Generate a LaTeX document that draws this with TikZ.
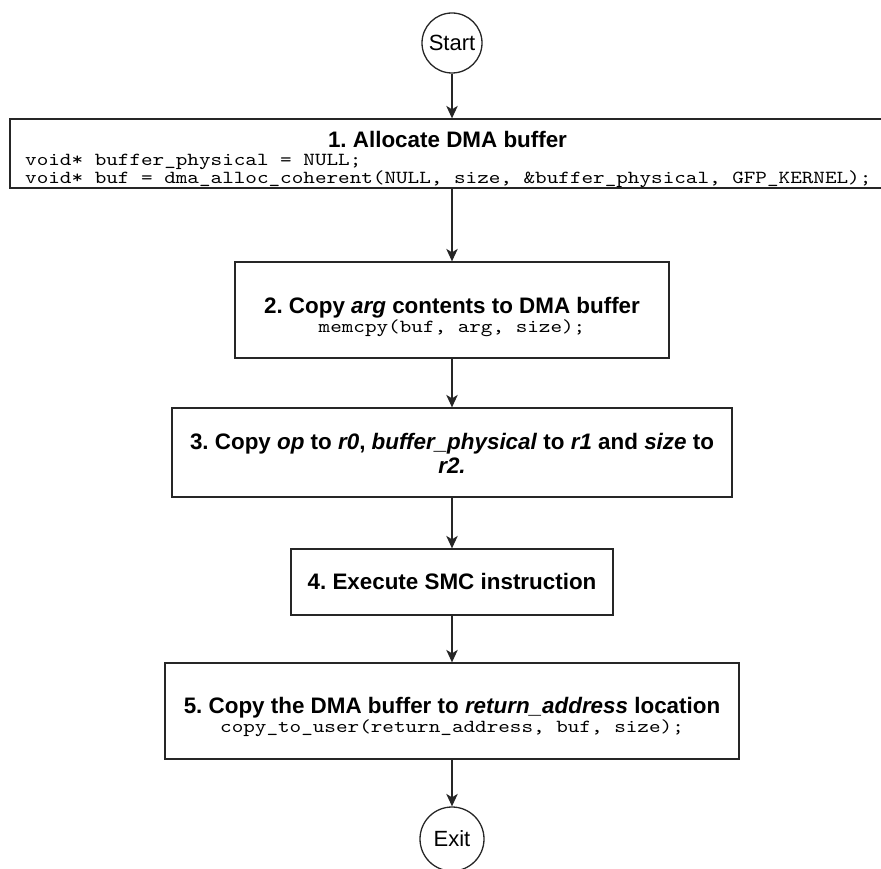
\documentclass[tikz,border=0pt]{standalone}
\usepackage{fontspec}
\setmainfont{Liberation Sans}
\newfontfamily\codefont{lmmono10-regular.otf}[FakeStretch=1.2]
\frenchspacing
\usetikzlibrary{arrows.meta}
\tikzset{
  stepbox/.style={draw=black!85, line width=1.3pt, rectangle, inner sep=0pt},
  terminal/.style={draw=black!85, line width=1.3pt, circle, inner sep=0pt,
    minimum size=60pt, font=\fontsize{22}{26}\selectfont},
  title/.style={anchor=base, inner sep=0pt, font=\fontsize{22.4}{26}\selectfont\bfseries},
  code/.style={anchor=base, inner sep=0pt, font=\fontsize{18.4}{21}\selectfont\codefont},
  flow/.style={draw=black!85, line width=1.3pt,
    -{Stealth[length=12.5pt,width=11.5pt,inset=3.5pt]}},
}
\begin{document}
\begin{tikzpicture}[x=1pt,y=-1pt]
\useasboundingbox (0,0) rectangle (881,869);

% terminals
\node[terminal] (start) at (452,43) {Start};
\node[terminal, minimum size=64pt] (exit) at (452,839) {Exit};

% step boxes
\node[stepbox, minimum width=875pt, minimum height=69pt] (b1) at (447.5,153.5) {};
\node[stepbox, minimum width=434pt, minimum height=96pt] (b2) at (452,310) {};
\node[stepbox, minimum width=560pt, minimum height=89pt] (b3) at (452,452.5) {};
\node[stepbox, minimum width=322pt, minimum height=66pt] (b4) at (452,582) {};
\node[stepbox, minimum width=574pt, minimum height=96pt] (b5) at (452,711) {};

% box texts
\node[title] (t1) at (447.5,148) {1. Allocate DMA buffer};
\node[code, anchor=base west] (c1a) at (25,165.5) {void* buffer\_physical = NULL;};
\node[code, anchor=base west] (c1b) at (25,184) {void* buf = dma\_alloc\_coherent(NULL, size, \&buffer\_physical, GFP\_KERNEL);};

\node[title] (t2) at (452,313) {2. Copy \textit{arg} contents to DMA buffer};
\node[code] (c2) at (452,332) {memcpy(buf, arg, size);};

\node[title] (t3a) at (452,449) {3. Copy \textit{op} to \textit{r0}, \textit{buffer\_physical} to \textit{r1} and \textit{size} to};
\node[title] (t3b) at (452,473) {\textit{r2.}};

\node[title] (t4) at (452,589) {4. Execute SMC instruction};

\node[title] (t5) at (452,713) {5. Copy the DMA buffer to \textit{return\_address} location};
\node[code] (c5) at (452,732) {copy\_to\_user(return\_address, buf, size);};

% connectors
\draw[flow] (start) -- (start |- b1.north);
\draw[flow] (b2.north |- b1.south) -- (b2.north);
\draw[flow] (b2.south) -- (b3.north);
\draw[flow] (b3.south) -- (b4.north);
\draw[flow] (b4.south) -- (b5.north);
\draw[flow] (b5.south) -- (exit);
\end{tikzpicture}
\end{document}
